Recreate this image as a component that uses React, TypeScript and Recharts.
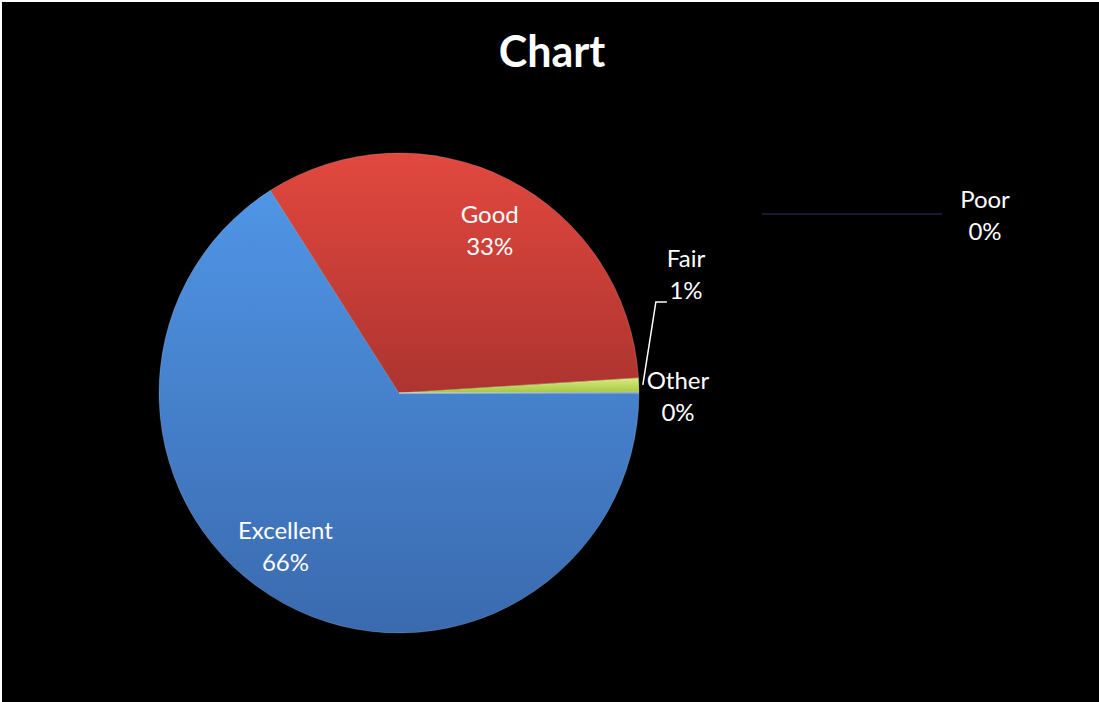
import React from "react";
import { PieChart, Pie, Cell } from "recharts";

const CATEGORIES = ["Excellent", "Good", "Fair", "Other", "Poor"];
const VALUES = [66, 33, 0.95, 0.03, 0.02];

const GRADIENTS: [string, string][] = [
  ["#5095e6", "#3a6aae"],
  ["#e2483f", "#ad342f"],
  ["#d8ee7c", "#a6c446"],
  ["#9a7fc4", "#6e5598"],
  ["#3ec0d8", "#2a8aa0"],
];

// label placement: inside slices use midAngle, outside ones use an offset from the pie centre
const LABEL_CFG: Record<string, any> = {
  Excellent: { inside: true, r: 0.79, shift: -8 },
  Good: { inside: true, r: 0.78, shift: -2 },
  Fair: { dx: 287, dy: -120, leader: [[0, 0], [13, -83], [24, -83]] },
  Other: { dx: 279, dy: 2 },
  Poor: { dx: 586, dy: -179, flat: true },
};

const data = CATEGORIES.map((name, i) => ({ name, value: VALUES[i] }));

const RAD = Math.PI / 180;
const FONT = "Lato, 'Open Sans', sans-serif";

function renderLabel(props: any) {
  const { cx, cy, midAngle, outerRadius, percent, name } = props;
  const cfg = LABEL_CFG[name] || {};
  let x = cx;
  let y = cy;
  if (cfg.inside) {
    const a = (midAngle + cfg.shift) * RAD;
    x = cx + outerRadius * cfg.r * Math.cos(a);
    y = cy - outerRadius * cfg.r * Math.sin(a);
  } else {
    x = cx + cfg.dx;
    y = cy + cfg.dy;
  }
  const pct = `${Math.round(percent * 100)}%`;
  let leader: React.ReactNode = null;
  if (cfg.leader) {
    const ex = cx + (outerRadius + 4) * Math.cos(midAngle * RAD);
    const ey = cy - (outerRadius + 4) * Math.sin(midAngle * RAD);
    const pts = cfg.leader.map((p: number[]) => `${ex + p[0]},${ey + p[1]}`).join(" ");
    leader = <polyline points={pts} fill="none" stroke="#ffffff" strokeWidth={1.5} />;
  }
  if (cfg.flat) {
    leader = (
      <line x1={x - 223} y1={y} x2={x - 43} y2={y} stroke="#1e1630" strokeWidth={2} />
    );
  }
  return (
    <g key={`lbl-${name}`}>
      {leader}
      <text
        x={x}
        y={y}
        textAnchor="middle"
        fill="#ffffff"
        fontFamily={FONT}
        fontSize={24}
      >
        <tspan x={x} dy={-6}>
          {name}
        </tspan>
        <tspan x={x} dy={32}>
          {pct}
        </tspan>
      </text>
    </g>
  );
}

export default function App() {
  return (
    <div
      style={{
        position: "absolute",
        left: 0,
        top: 0,
        width: 1099,
        height: 702,
        background: "#ffffff",
      }}
    >
      <div
        style={{
          position: "absolute",
          left: 2,
          top: 2,
          width: 1097,
          height: 700,
          background: "#000000",
        }}
      >
        <div
          style={{
            position: "absolute",
            left: 0,
            top: 24,
            width: 1100,
            textAlign: "center",
            color: "#ffffff",
            fontFamily: FONT,
            fontWeight: 700,
            fontSize: 43,
            lineHeight: "50px",
          }}
        >
          Chart
        </div>
        <PieChart width={1097} height={700} margin={{ top: 0, right: 0, bottom: 0, left: 0 }}>
          <defs>
            {GRADIENTS.map((g, i) => (
              <linearGradient key={i} id={`grad-${i}`} x1="0" y1="0" x2="0" y2="1">
                <stop offset="0%" stopColor={g[0]} />
                <stop offset="100%" stopColor={g[1]} />
              </linearGradient>
            ))}
          </defs>
          <Pie
            data={data}
            dataKey="value"
            nameKey="name"
            cx={397}
            cy={391}
            outerRadius={240}
            startAngle={0}
            endAngle={-360}
            stroke="rgba(255,255,255,0.18)"
            strokeWidth={1}
            label={renderLabel}
            labelLine={false}
            isAnimationActive={false}
          >
            {data.map((d, i) => (
              <Cell key={d.name} fill={`url(#grad-${i})`} />
            ))}
          </Pie>
        </PieChart>
      </div>
    </div>
  );
}
